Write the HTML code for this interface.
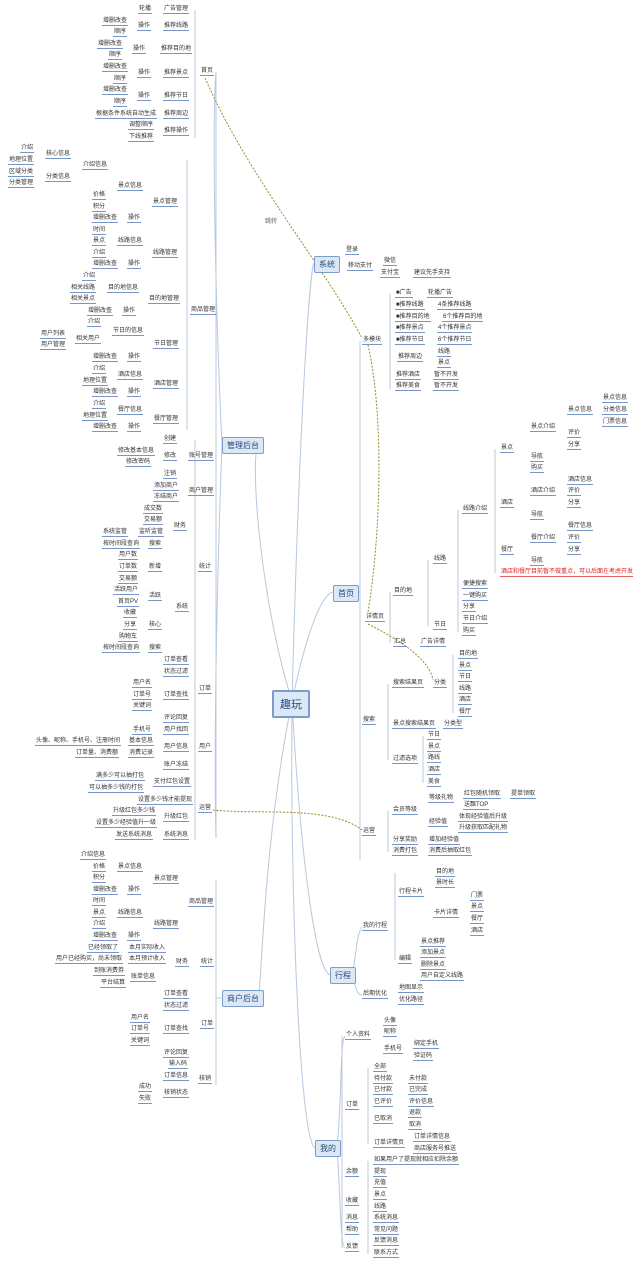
<!DOCTYPE html>
<html><head><meta charset="utf-8"><style>
body{margin:0;width:633px;height:1265px;background:#fff;position:relative;overflow:hidden;font-family:"Liberation Sans","Noto Sans CJK SC",sans-serif}
i{position:absolute;font-style:normal;font-size:6px;line-height:8px;color:#333;border-bottom:1px solid #7896c4;white-space:nowrap;padding:0 1px}
b{position:absolute;font-weight:normal;font-size:8px;color:#244a7a;background:#dce8f6;border:1px solid #7b9dc9;border-radius:2px;padding:2px 4px;white-space:nowrap}
.r{color:#e02020;border-bottom-color:#e06060}
svg{position:absolute;left:0;top:0}
</style></head><body>
<svg width="633" height="1265" fill="none">
<g stroke="#b8c8dc" stroke-width="1">
<path d="M292 701 C260 600 250 460 258 445"/>
<path d="M292 701 C262 850 262 990 258 998"/>
<path d="M292 701 C300 400 310 270 314 263"/>
<path d="M292 701 C305 640 320 595 333 592"/>
<path d="M292 701 C300 850 315 970 330 975"/>
<path d="M292 701 C290 900 300 1140 315 1148"/>
<path d="M222 445 C215 300 212 120 216 72"/>
<path d="M222 445 C216 600 214 760 216 838"/>
<path d="M216 72 L216 838"/>
<path d="M360 341 L360 860"/>
<path d="M357 592 L360 592"/>
<path d="M352 975 C356 960 356 935 362 927"/><path d="M352 975 C356 985 356 995 362 995"/>
<path d="M337 1148 C342 1100 340 1040 345 1036"/><path d="M337 1148 C340 1180 340 1248 345 1248"/>
<path d="M342 1036 L342 1248"/>
<path d="M195 10 L195 138"/><path d="M187 160 L187 430"/><path d="M195 440 L195 840"/>
<path d="M222 998 L216 998"/><path d="M216 880 L216 1085"/>
<path d="M390 294 L390 390"/><path d="M390 592 L390 643"/><path d="M388 684 L388 760"/><path d="M388 811 L388 852"/>
<path d="M428 560 L428 626"/><path d="M495 449 L495 573"/><path d="M458 510 L458 632"/>
<path d="M453 655 L453 713"/><path d="M423 736 L423 783"/>
<path d="M395 873 L395 960"/><path d="M368 1068 L368 1144"/><path d="M368 1161 L368 1254"/>
</g>
<g stroke="#9a8a30" stroke-width="1" stroke-dasharray="2,1.5">
<path d="M205 78 C250 180 320 260 362 338"/>
<path d="M368 345 C385 420 380 540 368 612"/>
<path d="M368 624 C400 640 430 660 433 680"/>
<path d="M213 810 C260 815 330 805 362 830"/>
</g>
</svg>
<i style="left:264px;top:218px;border:none;color:#666">跳转</i>
<b style="left:272px;top:690px;font-size:11px;padding:4px 6px;border-width:2px">趣玩</b>
<b style="left:222px;top:437px">管理后台</b>
<b style="left:222px;top:990px">商户后台</b>
<b style="left:314px;top:256px">系统</b>
<b style="left:333px;top:585px">首页</b>
<b style="left:330px;top:967px">行程</b>
<b style="left:315px;top:1140px">我的</b>

<i style="left:138px;top:5px">轮播</i><i style="left:163px;top:5px">广告管理</i>
<i style="left:102px;top:17px">增删改查</i><i style="left:113px;top:28px">顺序</i><i style="left:137px;top:22px">操作</i><i style="left:163px;top:22px">推荐线路</i>
<i style="left:97px;top:40px">增删改查</i><i style="left:108px;top:51px">顺序</i><i style="left:132px;top:45px">操作</i><i style="left:160px;top:45px">推荐目的地</i>
<i style="left:102px;top:63px">增删改查</i><i style="left:113px;top:75px">顺序</i><i style="left:137px;top:69px">操作</i><i style="left:163px;top:69px">推荐景点</i>
<i style="left:102px;top:86px">增删改查</i><i style="left:113px;top:98px">顺序</i><i style="left:137px;top:92px">操作</i><i style="left:163px;top:92px">推荐节日</i>
<i style="left:95px;top:110px">根据条件系统自动生成</i><i style="left:163px;top:110px">推荐周边</i>
<i style="left:128px;top:121px">调整顺序</i><i style="left:128px;top:133px">下线推荐</i><i style="left:163px;top:127px">推荐操作</i>
<i style="left:200px;top:67px">首页</i>

<i style="left:20px;top:144px">介绍</i><i style="left:45px;top:150px">核心信息</i><i style="left:8px;top:156px">地理位置</i><i style="left:8px;top:168px">区域分类</i><i style="left:8px;top:179px">分类管理</i><i style="left:45px;top:173px">分类信息</i><i style="left:82px;top:161px">介绍信息</i>
<i style="left:117px;top:182px">景点信息</i><i style="left:92px;top:191px">价格</i><i style="left:92px;top:203px">积分</i><i style="left:92px;top:214px">增删改查</i><i style="left:127px;top:214px">操作</i><i style="left:152px;top:198px">景点管理</i>
<i style="left:92px;top:226px">时间</i><i style="left:92px;top:237px">景点</i><i style="left:117px;top:237px">线路信息</i><i style="left:92px;top:249px">介绍</i><i style="left:92px;top:260px">增删改查</i><i style="left:127px;top:260px">操作</i><i style="left:152px;top:249px">线路管理</i>
<i style="left:82px;top:272px">介绍</i><i style="left:70px;top:284px">相关线路</i><i style="left:70px;top:295px">相关景点</i><i style="left:107px;top:284px">目的地信息</i><i style="left:87px;top:307px">增删改查</i><i style="left:122px;top:307px">操作</i><i style="left:148px;top:295px">目的地管理</i>
<i style="left:190px;top:306px">商品管理</i>
<i style="left:87px;top:318px">介绍</i><i style="left:40px;top:330px">用户列表</i><i style="left:40px;top:341px">用户管理</i><i style="left:75px;top:335px">相关用户</i><i style="left:112px;top:327px">节日的信息</i><i style="left:92px;top:353px">增删改查</i><i style="left:127px;top:353px">操作</i><i style="left:153px;top:340px">节日管理</i>
<i style="left:92px;top:365px">介绍</i><i style="left:82px;top:377px">地理位置</i><i style="left:117px;top:371px">酒店信息</i><i style="left:92px;top:388px">增删改查</i><i style="left:127px;top:388px">操作</i><i style="left:153px;top:380px">酒店管理</i>
<i style="left:92px;top:400px">介绍</i><i style="left:82px;top:412px">地理位置</i><i style="left:117px;top:406px">餐厅信息</i><i style="left:92px;top:423px">增删改查</i><i style="left:127px;top:423px">操作</i><i style="left:153px;top:415px">餐厅管理</i>

<i style="left:163px;top:435px">创建</i><i style="left:117px;top:447px">修改基本信息</i><i style="left:125px;top:458px">修改密码</i><i style="left:163px;top:452px">修改</i><i style="left:188px;top:452px">账号管理</i><i style="left:163px;top:470px">注销</i>
<i style="left:153px;top:482px">添加商户</i><i style="left:153px;top:493px">冻结商户</i><i style="left:188px;top:487px">商户管理</i>
<i style="left:143px;top:505px">成交数</i><i style="left:143px;top:516px">交易额</i><i style="left:102px;top:528px">系统监管</i><i style="left:138px;top:528px">监听监管</i><i style="left:102px;top:540px">按时间段查询</i><i style="left:148px;top:540px">搜索</i><i style="left:173px;top:522px">财务</i>
<i style="left:198px;top:563px">统计</i>
<i style="left:118px;top:551px">用户数</i><i style="left:118px;top:563px">订单数</i><i style="left:118px;top:575px">交易额</i><i style="left:113px;top:586px">活跃用户</i><i style="left:117px;top:598px">首页PV</i><i style="left:123px;top:609px">收藏</i><i style="left:123px;top:621px">分享</i><i style="left:118px;top:633px">购物车</i><i style="left:102px;top:644px">按时间段查询</i>
<i style="left:148px;top:563px">新增</i><i style="left:148px;top:592px">活跃</i><i style="left:148px;top:621px">核心</i><i style="left:148px;top:644px">搜索</i><i style="left:175px;top:603px">系统</i>
<i style="left:163px;top:656px">订单查看</i><i style="left:163px;top:668px">状态过滤</i><i style="left:132px;top:679px">用户名</i><i style="left:132px;top:691px">订单号</i><i style="left:132px;top:702px">关键词</i><i style="left:163px;top:691px">订单查找</i><i style="left:198px;top:685px">订单</i><i style="left:163px;top:714px">评论回复</i>
<i style="left:132px;top:726px">手机号</i><i style="left:163px;top:726px">用户找回</i><i style="left:35px;top:737px">头像、昵称、手机号、注册时间</i><i style="left:128px;top:737px">基本信息</i><i style="left:75px;top:749px">订单量、消费额</i><i style="left:128px;top:749px">消费记录</i><i style="left:163px;top:743px">用户信息</i><i style="left:198px;top:743px">用户</i><i style="left:163px;top:761px">账户冻结</i>
<i style="left:95px;top:772px">满多少可以抽打包</i><i style="left:88px;top:784px">可以抽多少钱的打包</i><i style="left:153px;top:778px">支付红包设置</i><i style="left:137px;top:796px">设置多少钱才能提现</i><i style="left:112px;top:807px">升级红包多少钱</i><i style="left:95px;top:819px">设置多少经验值升一级</i><i style="left:163px;top:813px">升级红包</i><i style="left:115px;top:831px">发送系统消息</i><i style="left:163px;top:831px">系统消息</i><i style="left:198px;top:804px">运营</i>

<i style="left:80px;top:851px">介绍信息</i><i style="left:92px;top:863px">价格</i><i style="left:92px;top:874px">积分</i><i style="left:117px;top:863px">景点信息</i><i style="left:92px;top:886px">增删改查</i><i style="left:127px;top:886px">操作</i><i style="left:153px;top:875px">景点管理</i><i style="left:188px;top:898px">商品管理</i>
<i style="left:92px;top:897px">时间</i><i style="left:92px;top:909px">景点</i><i style="left:117px;top:909px">线路信息</i><i style="left:92px;top:920px">介绍</i><i style="left:92px;top:932px">增删改查</i><i style="left:127px;top:932px">操作</i><i style="left:153px;top:920px">线路管理</i>
<i style="left:87px;top:944px">已经领取了</i><i style="left:128px;top:944px">本月实际收入</i><i style="left:55px;top:955px">用户已经购买，尚未领取</i><i style="left:128px;top:955px">本月预计收入</i><i style="left:93px;top:967px">到账消费券</i><i style="left:100px;top:979px">平台结算</i><i style="left:130px;top:973px">账单信息</i><i style="left:175px;top:958px">财务</i><i style="left:200px;top:958px">统计</i>
<i style="left:163px;top:990px">订单查看</i><i style="left:163px;top:1002px">状态过滤</i><i style="left:130px;top:1014px">用户名</i><i style="left:130px;top:1025px">订单号</i><i style="left:130px;top:1037px">关键词</i><i style="left:163px;top:1025px">订单查找</i><i style="left:200px;top:1020px">订单</i><i style="left:163px;top:1049px">评论回复</i>
<i style="left:168px;top:1060px">输入码</i><i style="left:163px;top:1072px">订单信息</i><i style="left:138px;top:1083px">成功</i><i style="left:138px;top:1095px">失败</i><i style="left:163px;top:1089px">核销状态</i><i style="left:198px;top:1075px">核销</i>

<i style="left:345px;top:246px">登录</i><i style="left:347px;top:262px">移动支付</i><i style="left:383px;top:257px">微信</i><i style="left:380px;top:269px">支付宝</i><i style="left:413px;top:269px">建议先手支持</i>
<i style="left:362px;top:336px">多模块</i>
<i style="left:395px;top:289px">■广告</i><i style="left:427px;top:289px">轮播广告</i><i style="left:395px;top:301px">■推荐线路</i><i style="left:437px;top:301px">4条推荐线路</i><i style="left:395px;top:313px">■推荐目的地</i><i style="left:442px;top:313px">6个推荐目的地</i><i style="left:395px;top:324px">■推荐景点</i><i style="left:437px;top:324px">4个推荐景点</i><i style="left:395px;top:336px">■推荐节日</i><i style="left:437px;top:336px">6个推荐节日</i><i style="left:397px;top:353px">推荐周边</i><i style="left:437px;top:348px">线路</i><i style="left:437px;top:359px">景点</i><i style="left:395px;top:371px">推荐酒店</i><i style="left:433px;top:371px">暂不开发</i><i style="left:395px;top:382px">推荐美食</i><i style="left:433px;top:382px">暂不开发</i>
<i style="left:365px;top:613px">详情页</i><i style="left:393px;top:587px">目的地</i><i style="left:433px;top:621px">节日</i><i style="left:433px;top:555px">线路</i><i style="left:462px;top:505px">线路介绍</i>
<i style="left:500px;top:444px">景点</i><i style="left:500px;top:499px">酒店</i><i style="left:500px;top:546px">餐厅</i>
<i style="left:530px;top:423px">景点介绍</i><i style="left:567px;top:406px">景点信息</i><i style="left:602px;top:394px">景点信息</i><i style="left:602px;top:406px">分类信息</i><i style="left:602px;top:418px">门票信息</i><i style="left:567px;top:429px">评价</i><i style="left:567px;top:441px">分享</i><i style="left:530px;top:453px">导航</i><i style="left:530px;top:464px">购买</i>
<i style="left:530px;top:487px">酒店介绍</i><i style="left:567px;top:476px">酒店信息</i><i style="left:567px;top:487px">评价</i><i style="left:567px;top:499px">分享</i><i style="left:530px;top:511px">导航</i>
<i style="left:530px;top:534px">餐厅介绍</i><i style="left:567px;top:522px">餐厅信息</i><i style="left:567px;top:534px">评价</i><i style="left:567px;top:546px">分享</i><i style="left:530px;top:557px">导航</i>
<i class="r" style="left:500px;top:568px">酒店和餐厅目前暂不做重点，可以后面在考虑开发</i>
<i style="left:462px;top:580px">便捷搜索</i><i style="left:462px;top:592px">一键购买</i><i style="left:462px;top:603px">分享</i><i style="left:462px;top:615px">节日介绍</i><i style="left:462px;top:627px">购买</i>
<i style="left:393px;top:638px">汇总</i><i style="left:420px;top:638px">广告详情</i>

<i style="left:458px;top:650px">目的地</i><i style="left:458px;top:662px">景点</i><i style="left:458px;top:673px">节日</i><i style="left:458px;top:685px">线路</i><i style="left:458px;top:696px">酒店</i><i style="left:458px;top:708px">餐厅</i><i style="left:392px;top:679px">搜索结果页</i><i style="left:433px;top:679px">分类</i><i style="left:362px;top:716px">搜索</i><i style="left:392px;top:720px">景点搜索结果页</i><i style="left:443px;top:720px">分类型</i><i style="left:392px;top:755px">过滤选项</i>
<i style="left:427px;top:731px">节日</i><i style="left:427px;top:743px">景点</i><i style="left:427px;top:754px">路线</i><i style="left:427px;top:766px">酒店</i><i style="left:427px;top:778px">美食</i>
<i style="left:362px;top:827px">运营</i><i style="left:392px;top:806px">会员等级</i><i style="left:428px;top:794px">等级礼物</i><i style="left:463px;top:790px">红包随机领取</i><i style="left:510px;top:790px">提单领取</i><i style="left:463px;top:801px">送飘TOP</i><i style="left:428px;top:818px">经验值</i><i style="left:458px;top:813px">体现经验值后升级</i><i style="left:458px;top:824px">升级获取匹配礼物</i><i style="left:392px;top:836px">分享奖励</i><i style="left:428px;top:836px">增加经验值</i><i style="left:392px;top:847px">消费打包</i><i style="left:428px;top:847px">消费后抽取红包</i>

<i style="left:362px;top:922px">我的行程</i><i style="left:398px;top:888px">行程卡片</i><i style="left:435px;top:868px">目的地</i><i style="left:435px;top:879px">景时长</i><i style="left:433px;top:909px">卡片详情</i><i style="left:470px;top:892px">门票</i><i style="left:470px;top:903px">景点</i><i style="left:470px;top:915px">餐厅</i><i style="left:470px;top:927px">酒店</i>
<i style="left:398px;top:955px">编辑</i><i style="left:420px;top:938px">景点推荐</i><i style="left:420px;top:949px">添加景点</i><i style="left:420px;top:961px">删除景点</i><i style="left:420px;top:972px">用户自定义线路</i><i style="left:362px;top:990px">后期优化</i><i style="left:398px;top:984px">地图显示</i><i style="left:398px;top:996px">优化路径</i>

<i style="left:345px;top:1031px">个人资料</i><i style="left:383px;top:1017px">头像</i><i style="left:383px;top:1028px">昵称</i><i style="left:383px;top:1045px">手机号</i><i style="left:413px;top:1040px">绑定手机</i><i style="left:413px;top:1052px">验证码</i>
<i style="left:345px;top:1101px">订单</i><i style="left:373px;top:1063px">全部</i><i style="left:373px;top:1075px">待付款</i><i style="left:408px;top:1075px">未付款</i><i style="left:373px;top:1086px">已付款</i><i style="left:408px;top:1086px">已完成</i><i style="left:373px;top:1098px">已评价</i><i style="left:408px;top:1098px">评价信息</i><i style="left:373px;top:1115px">已取消</i><i style="left:408px;top:1109px">退款</i><i style="left:408px;top:1121px">取消</i><i style="left:373px;top:1139px">订单详情页</i><i style="left:413px;top:1133px">订单详情信息</i><i style="left:413px;top:1145px">商店服务号推送</i>
<i style="left:345px;top:1168px">余额</i><i style="left:373px;top:1156px">如果用户了提现就相应扣除余额</i><i style="left:373px;top:1168px">提现</i><i style="left:373px;top:1179px">充值</i>
<i style="left:345px;top:1197px">收藏</i><i style="left:373px;top:1191px">景点</i><i style="left:373px;top:1203px">线路</i><i style="left:345px;top:1214px">消息</i><i style="left:373px;top:1214px">系统消息</i><i style="left:345px;top:1226px">帮助</i><i style="left:373px;top:1226px">常见问题</i><i style="left:345px;top:1243px">反馈</i><i style="left:373px;top:1237px">反馈消息</i><i style="left:373px;top:1249px">联系方式</i>
</body></html>
